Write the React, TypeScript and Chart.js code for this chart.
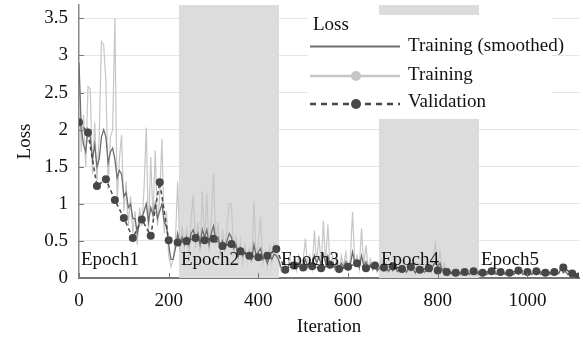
import React, { useEffect, useRef } from "react";
import { Chart, registerables } from "chart.js";

Chart.register(...registerables);

const FONT = "'Liberation Serif', 'Times New Roman', Times, serif";

// iteration step for the training series
const TRAIN_STEP = 5;

// raw training loss, one value every 5 iterations (0..1115)
const TRAINING = [
  2.9, 1.7, 2.2, 1.5, 2.58, 2.55, 1.4, 2.1, 1.3, 1.9,
  3.19, 3.14, 2.65, 1.2, 1.9, 2.0, 3.5, 1.0, 1.6, 1.93,
  0.9, 1.3, 0.7, 1.1, 0.6, 0.9, 0.45, 0.95, 0.7, 1.2,
  2.03, 0.6, 1.63, 0.8, 1.72, 0.7, 1.1, 1.87, 0.6, 0.9,
  0.3, 0.15, 0.25, 0.5, 1.3, 0.35, 0.7, 0.4, 0.65, 0.3,
  0.8, 1.12, 0.4, 0.75, 0.35, 1.17, 0.5, 1.14, 0.35, 0.8,
  1.4, 0.45, 0.75, 0.3, 0.65, 0.35, 0.7, 1.0, 1.0, 0.3,
  0.55, 0.25, 0.5, 0.2, 0.45, 0.25, 0.4, 0.2, 1.03, 0.25,
  0.45, 0.82, 0.2, 0.35, 0.15, 0.4, 0.2, 0.45, 0.3, 0.25,
  0.1, 0.08, 0.2, 0.1, 0.3, 0.12, 0.25, 0.1, 0.3, 0.15,
  0.25, 0.53, 0.15, 0.3, 0.12, 0.64, 0.2, 0.57, 0.15, 0.77,
  0.2, 0.72, 0.15, 0.3, 0.12, 0.28, 0.1, 0.3, 0.15, 0.35,
  0.12, 0.25, 0.89, 0.2, 0.3, 0.12, 0.67, 0.15, 0.44, 0.12,
  0.25, 0.1, 0.2, 0.08, 0.15, 0.25, 0.1, 0.2, 0.08, 0.18,
  0.1, 0.22, 0.08, 0.15, 0.1, 0.2, 0.07, 0.18, 0.1, 0.15,
  0.06, 0.2, 0.1, 0.15, 0.07, 0.12, 0.2, 0.08, 0.3, 0.47,
  0.15, 0.35, 0.1, 0.2, 0.06, 0.12, 0.05, 0.1, 0.06, 0.12,
  0.04, 0.1, 0.05, 0.09, 0.04, 0.1, 0.05, 0.08, 0.04, 0.09,
  0.05, 0.1, 0.04, 0.08, 0.05, 0.11, 0.04, 0.09, 0.05, 0.12,
  0.04, 0.08, 0.06, 0.1, 0.04, 0.09, 0.05, 0.13, 0.04, 0.08,
  0.05, 0.1, 0.04, 0.09, 0.05, 0.11, 0.04, 0.08, 0.05, 0.1,
  0.04, 0.09, 0.05, 0.12, 0.06, 0.18, 0.07, 0.1, 0.04, 0.08,
  0.03, 0.07, 0.02, 0.05,
];

// smoothed training loss, same iterations
const SMOOTHED = [
  2.9, 2.0, 1.8, 1.7, 2.0, 1.9, 1.6, 1.8, 1.5, 1.6,
  1.9, 2.0, 1.9, 1.55, 1.7, 1.75, 1.6, 1.35, 1.45, 1.4,
  1.1, 1.15, 0.95, 1.0, 0.8, 0.8, 0.6, 0.75, 0.8, 0.9,
  1.0, 0.75, 0.95, 0.85, 1.0, 0.8, 0.9, 1.0, 0.75, 0.7,
  0.45, 0.25, 0.25, 0.4, 0.6, 0.45, 0.55, 0.45, 0.55, 0.45,
  0.6, 0.65, 0.5, 0.6, 0.45, 0.65, 0.55, 0.65, 0.45, 0.6,
  0.7, 0.5, 0.55, 0.4, 0.5, 0.4, 0.5, 0.6, 0.55, 0.4,
  0.45, 0.3, 0.4, 0.3, 0.35, 0.3, 0.32, 0.25, 0.45, 0.3,
  0.35, 0.4, 0.25, 0.3, 0.2, 0.3, 0.25, 0.32, 0.3, 0.25,
  0.15, 0.12, 0.15, 0.12, 0.2, 0.15, 0.18, 0.13, 0.2, 0.15,
  0.18, 0.25, 0.15, 0.2, 0.15, 0.3, 0.2, 0.28, 0.18, 0.32,
  0.2, 0.3, 0.17, 0.2, 0.14, 0.2, 0.13, 0.2, 0.15, 0.22,
  0.14, 0.18, 0.35, 0.2, 0.22, 0.14, 0.3, 0.16, 0.22, 0.13,
  0.18, 0.12, 0.15, 0.1, 0.13, 0.17, 0.1, 0.15, 0.09, 0.13,
  0.1, 0.15, 0.09, 0.12, 0.1, 0.14, 0.08, 0.13, 0.1, 0.12,
  0.07, 0.13, 0.1, 0.12, 0.08, 0.1, 0.13, 0.09, 0.17, 0.22,
  0.15, 0.2, 0.1, 0.13, 0.07, 0.1, 0.06, 0.09, 0.06, 0.1,
  0.05, 0.08, 0.06, 0.08, 0.05, 0.08, 0.05, 0.07, 0.05, 0.08,
  0.05, 0.08, 0.05, 0.07, 0.05, 0.09, 0.05, 0.08, 0.05, 0.09,
  0.05, 0.07, 0.06, 0.08, 0.05, 0.08, 0.05, 0.1, 0.05, 0.07,
  0.05, 0.08, 0.05, 0.08, 0.05, 0.09, 0.05, 0.07, 0.05, 0.08,
  0.05, 0.08, 0.05, 0.1, 0.06, 0.13, 0.07, 0.09, 0.05, 0.07,
  0.04, 0.06, 0.03, 0.04,
];

const VAL_ITERS = [
  0, 20, 40, 60, 80, 100, 120, 140, 160, 180,
  200, 220, 240, 260, 280, 300, 320, 340, 360, 380,
  400, 420, 440, 460, 480, 500, 520, 540, 560, 580,
  600, 620, 640, 660, 680, 700, 720, 740, 760, 780,
  800, 820, 840, 860, 880, 900, 920, 940, 960, 980,
  1000, 1020, 1040, 1060, 1080, 1100, 1115,
];
const VALIDATION = [
  2.1, 1.96, 1.24, 1.33, 1.05, 0.81, 0.54, 0.79, 0.57, 1.29,
  0.51, 0.48, 0.5, 0.54, 0.51, 0.53, 0.43, 0.46, 0.36, 0.3,
  0.28, 0.3, 0.39, 0.11, 0.17, 0.14, 0.16, 0.13, 0.18, 0.12,
  0.15, 0.2, 0.13, 0.17, 0.14, 0.16, 0.12, 0.15, 0.11, 0.13,
  0.1, 0.08, 0.07, 0.08, 0.09, 0.07, 0.09, 0.08, 0.07, 0.1,
  0.08, 0.09, 0.07, 0.08, 0.14, 0.06, 0.02,
];

const EPOCH_STARTS = [0, 223, 446, 669, 892];
const EPOCH_END = 1115;
const EPOCH_LABELS = ["Epoch1", "Epoch2", "Epoch3", "Epoch4", "Epoch5"];
const SHADED_EPOCHS = [1, 3];

const X_TICKS = [0, 200, 400, 600, 800, 1000];
const Y_TICKS = [0, 0.5, 1, 1.5, 2, 2.5, 3, 3.5];
const Y_MAX = 3.68;

const LEGEND_TITLE = "Loss";
const LEGEND_ITEMS = ["Training (smoothed)", "Training", "Validation"];

const C_RAW = "#c6c6c6";
const C_SMOOTH = "#6e6e6e";
const C_VAL = "#474747";

const decorPlugin = {
  id: "decor",
  beforeDatasetsDraw(chart: any) {
    const { ctx, chartArea, scales } = chart;
    const x = scales.x;
    ctx.save();
    ctx.fillStyle = "#dcdcdc";
    SHADED_EPOCHS.forEach((i) => {
      const s = EPOCH_STARTS[i];
      const e = i + 1 < EPOCH_STARTS.length ? EPOCH_STARTS[i + 1] : EPOCH_END;
      const x0 = x.getPixelForValue(s);
      const x1 = x.getPixelForValue(e);
      ctx.fillRect(x0, chartArea.top, x1 - x0, chartArea.bottom - chartArea.top);
    });
    ctx.restore();
  },
  afterDatasetsDraw(chart: any) {
    const { ctx, chartArea, scales } = chart;
    const x = scales.x;
    const y = scales.y;
    ctx.save();
    // epoch labels
    ctx.fillStyle = "#111";
    ctx.font = `19px ${FONT}`;
    ctx.textAlign = "left";
    ctx.textBaseline = "middle";
    EPOCH_STARTS.forEach((s, i) => {
      ctx.fillText(EPOCH_LABELS[i], x.getPixelForValue(s) + 2, y.getPixelForValue(0.245));
    });
    // inner tick marks
    ctx.strokeStyle = "#777";
    ctx.lineWidth = 1;
    X_TICKS.forEach((t) => {
      const px = Math.round(x.getPixelForValue(t)) + 0.5;
      ctx.beginPath();
      ctx.moveTo(px, chartArea.bottom);
      ctx.lineTo(px, chartArea.bottom - 5);
      ctx.stroke();
    });
    Y_TICKS.forEach((t) => {
      const py = Math.round(y.getPixelForValue(t)) + 0.5;
      ctx.beginPath();
      ctx.moveTo(chartArea.left, py);
      ctx.lineTo(chartArea.left + 5, py);
      ctx.stroke();
    });
    ctx.restore();
  },
  afterDraw(chart: any) {
    const { ctx } = chart;
    ctx.save();
    // legend box
    ctx.fillStyle = "#fff";
    ctx.fillRect(308, 15, 244, 104);
    ctx.fillStyle = "#111";
    ctx.font = `19px ${FONT}`;
    ctx.textAlign = "left";
    ctx.textBaseline = "middle";
    ctx.fillText(LEGEND_TITLE, 313, 25);
    const rows = [46.5, 76, 104];
    // smoothed
    ctx.strokeStyle = C_SMOOTH;
    ctx.lineWidth = 2;
    ctx.beginPath();
    ctx.moveTo(310, rows[0]);
    ctx.lineTo(400, rows[0]);
    ctx.stroke();
    // raw
    ctx.strokeStyle = C_RAW;
    ctx.lineWidth = 2.5;
    ctx.beginPath();
    ctx.moveTo(310, rows[1]);
    ctx.lineTo(400, rows[1]);
    ctx.stroke();
    ctx.fillStyle = C_RAW;
    ctx.beginPath();
    ctx.arc(356, rows[1], 5, 0, Math.PI * 2);
    ctx.fill();
    // validation
    ctx.strokeStyle = C_VAL;
    ctx.lineWidth = 2.5;
    ctx.setLineDash([6, 5]);
    ctx.beginPath();
    ctx.moveTo(310, rows[2]);
    ctx.lineTo(400, rows[2]);
    ctx.stroke();
    ctx.setLineDash([]);
    ctx.fillStyle = C_VAL;
    ctx.beginPath();
    ctx.arc(356, rows[2], 5, 0, Math.PI * 2);
    ctx.fill();
    ctx.fillStyle = "#111";
    ctx.fillText(LEGEND_ITEMS[0], 408, rows[0]);
    ctx.fillText(LEGEND_ITEMS[1], 408, rows[1] - 1);
    ctx.fillText(LEGEND_ITEMS[2], 408, rows[2] - 2);
    ctx.restore();
  },
};

const fmt = (v: any) => String(Math.round(Number(v) * 100) / 100);

export default function App() {
  const ref = useRef<HTMLCanvasElement>(null);
  useEffect(() => {
    const rawPts = TRAINING.map((v, i) => ({ x: i * TRAIN_STEP, y: v }));
    const smPts = SMOOTHED.map((v, i) => ({ x: i * TRAIN_STEP, y: v }));
    const valPts = VALIDATION.map((v, i) => ({ x: VAL_ITERS[i], y: v }));
    const chart = new Chart(ref.current as HTMLCanvasElement, {
      type: "line",
      data: {
        datasets: [
          {
            label: "Validation",
            data: valPts,
            borderColor: C_VAL,
            backgroundColor: C_VAL,
            borderWidth: 1.5,
            borderDash: [4, 3],
            pointRadius: 4,
            pointBorderWidth: 0,
            pointBackgroundColor: C_VAL,
            tension: 0,
          },
          {
            label: "Training (smoothed)",
            data: smPts,
            borderColor: C_SMOOTH,
            borderWidth: 1.3,
            pointRadius: 0,
            tension: 0,
          },
          {
            label: "Training",
            data: rawPts,
            borderColor: C_RAW,
            borderWidth: 1.2,
            pointRadius: 0,
            tension: 0,
          },
        ],
      },
      options: {
        animation: false,
        responsive: false,
        maintainAspectRatio: false,
        layout: { padding: { left: 0, right: 2, top: 5, bottom: 0 } },
        plugins: {
          legend: { display: false },
          tooltip: { enabled: false },
        },
        scales: {
          x: {
            type: "linear",
            min: 0,
            max: EPOCH_END,
            grid: { display: false, drawTicks: false },
            border: { display: true, color: "#777", width: 2 },
            ticks: {
              stepSize: 200,
              includeBounds: false,
              padding: 12,
              color: "#111",
              font: { family: FONT, size: 19 },
              maxRotation: 0,
              callback: (v: any) => fmt(v),
            },
            title: {
              display: true,
              text: "Iteration",
              color: "#111",
              font: { family: FONT, size: 19 },
              padding: { top: 0, bottom: 0 },
            },
            afterFit: (s: any) => {
              s.height = 60;
              s.paddingLeft = 0;
              s.paddingRight = 0;
            },
          },
          y: {
            min: 0,
            max: Y_MAX,
            grid: { color: "#e4e4e4", lineWidth: 1, drawTicks: false },
            border: { display: true, color: "#888", width: 1.5 },
            ticks: {
              stepSize: 0.5,
              includeBounds: false,
              padding: 11,
              color: "#111",
              font: { family: FONT, size: 19 },
              callback: (v: any) => fmt(v),
            },
            title: {
              display: true,
              text: "Loss",
              color: "#111",
              font: { family: FONT, size: 19 },
              padding: { top: 14, bottom: 0 },
            },
            afterFit: (s: any) => {
              s.width = 79;
              s.paddingTop = 0;
              s.paddingBottom = 0;
            },
          },
        },
      },
      plugins: [decorPlugin],
    });
    return () => chart.destroy();
  }, []);
  return (
    <div style={{ position: "fixed", left: 0, top: 0, width: 583, height: 338, background: "#fff" }}>
      <canvas ref={ref} width={583} height={338} style={{ display: "block" }} />
    </div>
  );
}
